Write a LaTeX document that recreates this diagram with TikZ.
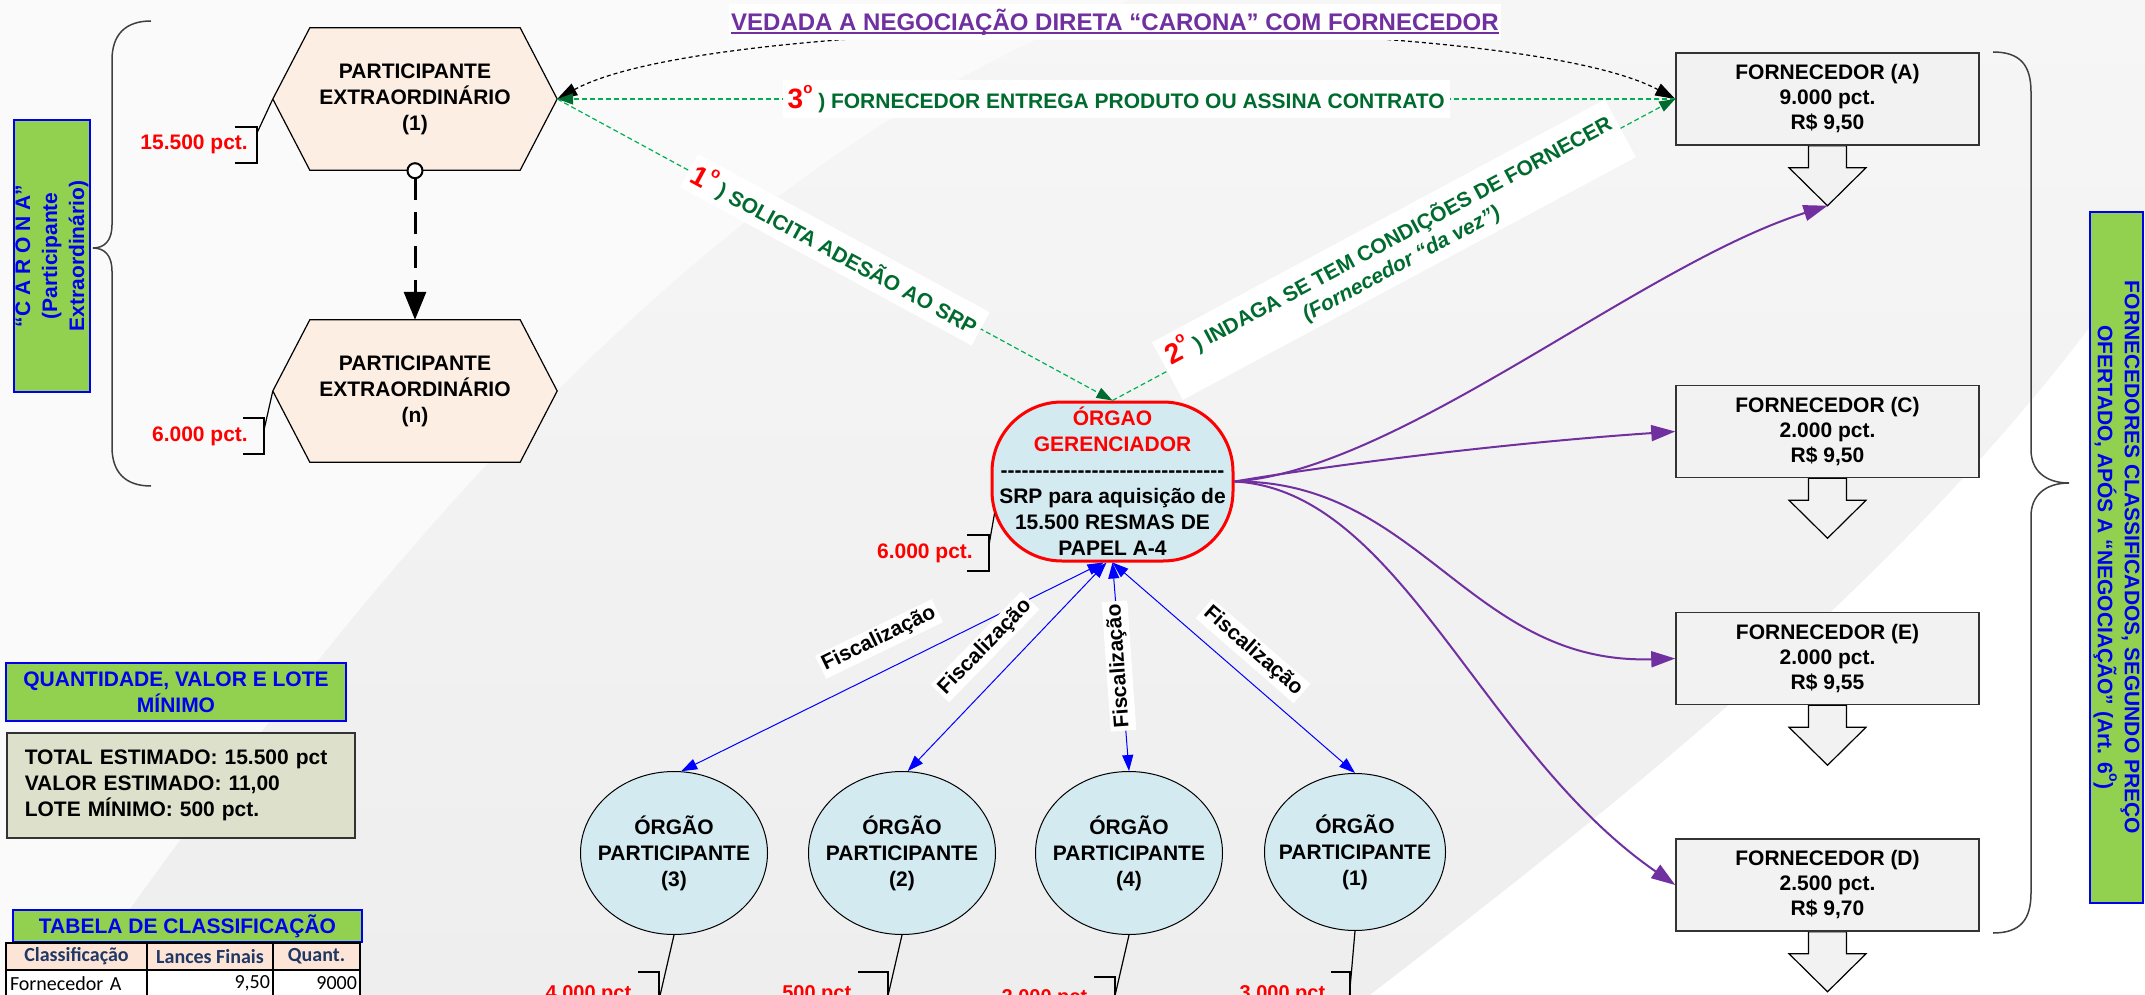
\documentclass[tikz,border=0pt]{standalone}
\usepackage{fontspec}
\setmainfont{Liberation Sans}
\newfontfamily\calib{Carlito}
\usetikzlibrary{arrows.meta,shapes.geometric,calc}
\pgfdeclarelayer{bg}
\pgfdeclarelayer{mid}
\pgfsetlayers{bg,mid,main}
\definecolor{peach}{HTML}{FCEEE3}
\definecolor{lblue}{HTML}{D3EAF0}
\definecolor{fgrey}{HTML}{F2F2F2}
\definecolor{lgreen}{HTML}{92D050}
\definecolor{bblue}{HTML}{0000EE}
\definecolor{olivebox}{HTML}{DDE1CB}
\definecolor{purp}{HTML}{7030A0}
\definecolor{dgreen}{HTML}{006B2E}
\definecolor{lgline}{HTML}{00B050}
\definecolor{navy}{HTML}{1F3864}
\definecolor{tpeach}{HTML}{FCE4D6}
\definecolor{bgA}{HTML}{F6F6F6}
\definecolor{bgB}{HTML}{EEEEEE}
\definecolor{bgW}{HTML}{FAFAFA}
\definecolor{boxline}{HTML}{333333}
\definecolor{braceg}{HTML}{404040}
\newcommand\supo[1]{\raisebox{0.55em}{\fontsize{#1}{#1}\selectfont o}}
\newcommand\myhy{-\kern0pt}
\newcommand\ogdashes{\myhy\myhy\myhy\myhy\myhy\myhy\myhy\myhy\myhy\myhy\myhy\myhy\myhy\myhy\myhy\myhy\myhy\myhy\myhy\myhy\myhy\myhy\myhy\myhy\myhy\myhy\myhy\myhy\myhy\myhy\myhy\myhy}
\begin{document}
\begin{tikzpicture}[x=1pt,y=-1pt,
  font=\bfseries\fontsize{21}{25.5}\selectfont,
  hexnode/.style={minimum width=284pt,minimum height=142pt,inner sep=0pt,align=center,font=\bfseries\fontsize{21}{26}\selectfont},
  fbox/.style={draw=boxline,line width=1.5pt,fill=fgrey,minimum width=303pt,minimum height=92pt,inner sep=0pt,align=center,font=\bfseries\fontsize{21}{25}\selectfont},
  gbox/.style={draw=bblue,line width=2pt,fill=lgreen,text=bblue,inner sep=0pt,align=center},
  ogbox/.style={draw=red,line width=3pt,fill=lblue,rounded corners=70pt,minimum width=241pt,minimum height=159pt,inner sep=0pt,align=center,font=\bfseries\fontsize{21}{26}\selectfont},
  opbox/.style={ellipse,draw=black,line width=1pt,fill=lblue,minimum width=187pt,minimum height=163pt,inner sep=0pt},
  optext/.style={inner sep=0pt,align=center,font=\bfseries\fontsize{21}{26}\selectfont},
  redlbl/.style={text=red,inner sep=0pt},
  redsm/.style={text=red,inner sep=0pt,font=\bfseries\fontsize{20}{20}\selectfont},
  brk/.style={draw=black,line width=1.2pt},
  gline/.style={draw=lgline,line width=1.2pt,dash pattern=on 5pt off 3pt},
  gtip/.style={-{Triangle[length=16pt,width=11pt,color=dgreen]}},
  parr/.style={draw=purp,line width=2pt,-{Triangle[length=24pt,width=16pt]}},
  barr/.style={draw=blue,line width=1pt,{Triangle[length=16pt,width=11pt]}-{Triangle[length=16pt,width=11pt]}},
  fisc/.style={fill=white,inner sep=3pt,text=black},
  braceline/.style={draw=braceg,line width=1.5pt},
  cellh/.style={draw=black,line width=2pt,inner sep=0pt,minimum height=27pt,fill=tpeach,text=navy,font=\calib\bfseries\fontsize{20}{24}\selectfont},
  cellr/.style={draw=black,line width=2pt,inner sep=0pt,minimum height=27pt,fill=white,text=black,font=\calib\mdseries\fontsize{20}{24}\selectfont}
]
\useasboundingbox (0,0) rectangle (2145,995);

% background swoosh
\begin{pgfonlayer}{bg}
\fill[bgW] (0,0) rectangle (2145,995);
\shade[top color=bgA,bottom color=bgB] (1130,0) .. controls (760,140) and (450,450) .. (69,995) -- (1370,995) .. controls (1650,780) and (1950,540) .. (2145,250) -- (2145,0) -- cycle;
\fill[white] (1370,995) .. controls (1650,780) and (1950,540) .. (2145,250) -- (2145,995) -- cycle;
\end{pgfonlayer}

% main nodes
\node[hexnode] (h1) at (415,99) {PARTICIPANTE\\EXTRAORDINÁRIO\\(1)};
\node[hexnode] (hn) at (415,391) {PARTICIPANTE\\EXTRAORDINÁRIO\\(n)};
\node[fbox] (fa) at (1827.5,99) {FORNECEDOR (A)\\9.000 pct.\\R\$ 9,50};
\node[fbox] (fc) at (1827.5,431.5) {FORNECEDOR (C)\\2.000 pct.\\R\$ 9,50};
\node[fbox] (fe) at (1827.5,658.5) {FORNECEDOR (E)\\2.000 pct.\\R\$ 9,55};
\node[fbox] (fd) at (1827.5,885) {FORNECEDOR (D)\\2.500 pct.\\R\$ 9,70};
\node[ogbox] (og) at (1112.5,481.5) {\textcolor{red}{ÓRGAO}\\\textcolor{red}{GERENCIADOR}\\\ogdashes\\SRP para aquisição de\\15.500 RESMAS DE\\PAPEL A-4};
\node[opbox] (op3) at (674,853) {};
\node[optext] (op3t) at (op3.center) {ÓRGÃO\\PARTICIPANTE\\(3)};
\node[opbox] (op2) at (902,853) {};
\node[optext] (op2t) at (op2.center) {ÓRGÃO\\PARTICIPANTE\\(2)};
\node[opbox] (op4) at (1129,853) {};
\node[optext] (op4t) at (op4.center) {ÓRGÃO\\PARTICIPANTE\\(4)};
\node[opbox,minimum width=181pt,minimum height=157pt] (op1) at (1355,852) {};
\node[optext] (op1t) at (op1.center) {ÓRGÃO\\PARTICIPANTE\\(1)};

\node[gbox,rotate=90,minimum width=272pt,minimum height=76pt,font=\bfseries\fontsize{21}{27}\selectfont] (carona) at (52,256) {“C A R O N A”\\(Participante\\Extraordinário)};
\node[gbox,rotate=-90,minimum width=691pt,minimum height=53pt,font=\bfseries\fontsize{21}{27}\selectfont] (forn) at (2116.5,557.5) {FORNECEDORES CLASSIFICADOS, SEGUNDO PREÇO\\OFERTADO, APÓS A “NEGOCIAÇÃO” (Art. 6\supo{14})};
\node[gbox,minimum width=340pt,minimum height=58pt,font=\bfseries\fontsize{21}{26}\selectfont] (qbox) at (176,692) {QUANTIDADE, VALOR E LOTE\\MÍNIMO};
\node[draw=boxline,line width=1.5pt,fill=olivebox,anchor=north west,text width=312pt,inner xsep=18pt,inner ysep=0pt,minimum height=105pt,align=left,font=\bfseries\fontsize{21}{26}\selectfont] (tot) at (6,732) {TOTAL ESTIMADO: 15.500 pct\\VALOR ESTIMADO: 11,00\\LOTE MÍNIMO: 500 pct.};
\node[gbox,minimum width=349pt,minimum height=32pt] (tab) at (187.5,926) {TABELA DE CLASSIFICAÇÃO};

% table
\node[cellh,minimum width=141pt] (c11) at (76.5,956.5) {Classificação};
\node[cellh,minimum width=126pt] (c12) at (210,956.5) {Lances Finais};
\node[cellh,minimum width=87pt] (c13) at (316.5,956.5) {Quant.};
\node[cellr,minimum width=141pt,text width=133pt,align=left] (c21) at (76.5,983.5) {Fornecedor A};
\node[cellr,minimum width=126pt,text width=120pt,align=right] (c22) at (210,983.5) {9,50};
\node[cellr,minimum width=87pt,text width=81pt,align=right] (c23) at (316.5,983.5) {9000};

% hexagon outlines and block arrows
\begin{pgfonlayer}{mid}
\foreach \h in {h1,hn}{
  \draw[fill=peach,draw=black,line width=1.2pt] (\h.west) -- ([xshift=37pt]\h.north west) -- ([xshift=-37pt]\h.north east) -- (\h.east) -- ([xshift=-37pt]\h.south east) -- ([xshift=37pt]\h.south west) -- cycle;}
\foreach \b in {fa,fc,fe,fd}{
  \draw[fill=fgrey,draw=black,line width=1.2pt] ([xshift=-19pt]\b.south) -- ([xshift=-19pt,yshift=-22pt]\b.south) -- ([xshift=-38.5pt,yshift=-22pt]\b.south) -- ([yshift=-60pt]\b.south) -- ([xshift=38.5pt,yshift=-22pt]\b.south) -- ([xshift=19pt,yshift=-22pt]\b.south) -- ([xshift=19pt]\b.south) -- cycle;}
\end{pgfonlayer}
\coordinate (faTip) at ([yshift=-60pt]fa.south);

% black arc and title
\draw[black,line width=1.2pt,dash pattern=on 4pt off 3pt,{Triangle[length=20pt,width=13pt]}-{Triangle[length=20pt,width=13pt]}] (h1.east) .. controls (720,10) and (1510,10) .. (fa.west);
\node[fill=white,text=purp,inner xsep=2pt,inner ysep=5pt,font=\bfseries\fontsize{24}{24}\selectfont] (title) at (1115,22) {VEDADA A NEGOCIAÇÃO DIRETA “CARONA” COM FORNECEDOR};
\draw[purp,line width=1.5pt] ([xshift=2pt,yshift=-3pt]title.base west) -- ([xshift=-2pt,yshift=-3pt]title.base east);

% green steps
\draw[gline,gtip] (fa.west) -- (h1.east) node[midway,fill=white,inner sep=5pt,text=dgreen] (s3) {{\color{red}\fontsize{28}{28}\selectfont 3\supo{15}} ) FORNECEDOR ENTREGA PRODUTO OU ASSINA CONTRATO};
\draw[gline,gtip] (h1.east) -- (og.north) node[midway,sloped,fill=white,inner sep=5pt,text=dgreen] (s1) {{\color{red}\fontsize{28}{28}\selectfont 1\supo{15}} ) SOLICITA ADESÃO AO SRP};
\draw[gline,gtip] (og.north) -- (fa.west) node[midway,sloped,fill=white,inner sep=6pt,text=dgreen,align=center] (s2) {{\color{red}\fontsize{28}{28}\selectfont 2\supo{15}} ) INDAGA SE TEM CONDIÇÕES DE FORNECER\\{\itshape (Fornecedor “da vez”)}};

% pct labels with brackets
\node[redlbl,anchor=east] (p1) at (248,144) {15.500 pct.};
\draw[brk] (235,127) -- (257,127) -- (257,163) -- (235,163);
\coordinate (p1c) at (257,133);
\draw[brk] (p1c) -- (h1.west);
\node[redlbl,anchor=east] (p2) at (248,436) {6.000 pct.};
\draw[brk] (243,418) -- (264,418) -- (264,454) -- (243,454);
\coordinate (p2c) at (264,430);
\draw[brk] (p2c) -- (hn.west);
\node[redlbl,anchor=east] (p3) at (973,553) {6.000 pct.};
\draw[brk] (967,535) -- (989,535) -- (989,571) -- (967,571);
\coordinate (p3c) at (989,545);
\draw[brk] (p3c) -- ([xshift=4pt,yshift=-32pt]og.west);

\node[redsm,anchor=base east] (q3) at (637,999) {4.000 pct.};
\draw[brk] (638,972) -- (659,972) -- (659,1010);
\coordinate (q3c) at (659,1000);
\draw[brk] (op3.south) -- (q3c);
\node[redsm,anchor=base east] (q2) at (857,999) {500 pct.};
\draw[brk] (858,972) -- (888,972) -- (888,1010);
\coordinate (q2c) at (887,1000);
\draw[brk] (op2.south) -- (q2c);
\node[redsm,anchor=base east] (q4) at (1093,1003) {2.000 pct.};
\draw[brk] (1094,977) -- (1115,977) -- (1115,1010);
\coordinate (q4c) at (1114,1000);
\draw[brk] (op4.south) -- (q4c);
\node[redsm,anchor=base east] (q1) at (1331,999) {3.000 pct.};
\draw[brk] (1331,972) -- (1350,972) -- (1350,1010);
\coordinate (q1c) at (1349,1000);
\draw[brk] (op1.south) -- (q1c);

% purple curves
\draw[parr] (og.east) .. controls (1400,470) and (1640,265) .. (faTip);
\draw[parr] (og.east) .. controls (1350,462) and (1520,442) .. (fc.west);
\draw[parr] (og.east) .. controls (1420,480) and (1470,665) .. (fe.west);
\draw[parr] (og.east) .. controls (1400,490) and (1480,750) .. (fd.west);

% blue fiscalization arrows
\draw[barr] ([xshift=-9pt]og.south) -- (op3.85);
\draw[barr] ([xshift=-6pt]og.south) -- (op2.86);
\draw[barr] (og.south) -- (op4.north);
\draw[barr] (og.south) -- (op1.north);
\node[fisc,rotate=25.9] (f3) at (879,639) {Fiscalização};
\node[fisc,rotate=45.8] (f2) at (985,647) {Fiscalização};
\node[fisc,rotate=94] (f4) at (1119,666) {Fiscalização};
\node[fisc,rotate=-41] (f1) at (1253,651) {Fiscalização};

% dashed arrow between participants
\draw[line width=3pt,dash pattern=on 22pt off 12pt,shorten <=-8pt,{Circle[length=17pt,width=17pt,fill=white,line width=2pt]}-{Triangle[length=28pt,width=22pt]}] (h1.south) -- (hn.north);

% braces
\draw[braceline] (151,21) .. controls (125,21) and (112,35) .. (112,60) -- (112,225) .. controls (112,240) and (105,248) .. (93,248) .. controls (105,248) and (112,256) .. (112,271) -- (112,447) .. controls (112,472) and (125,486) .. (151,486);
\draw[braceline] (1993,52) .. controls (2020,52) and (2031,65) .. (2031,92) -- (2031,450) .. controls (2031,470) and (2045,483) .. (2069,483) .. controls (2045,483) and (2031,496) .. (2031,516) -- (2031,893) .. controls (2031,920) and (2020,933) .. (1993,933);
\end{tikzpicture}
\end{document}
